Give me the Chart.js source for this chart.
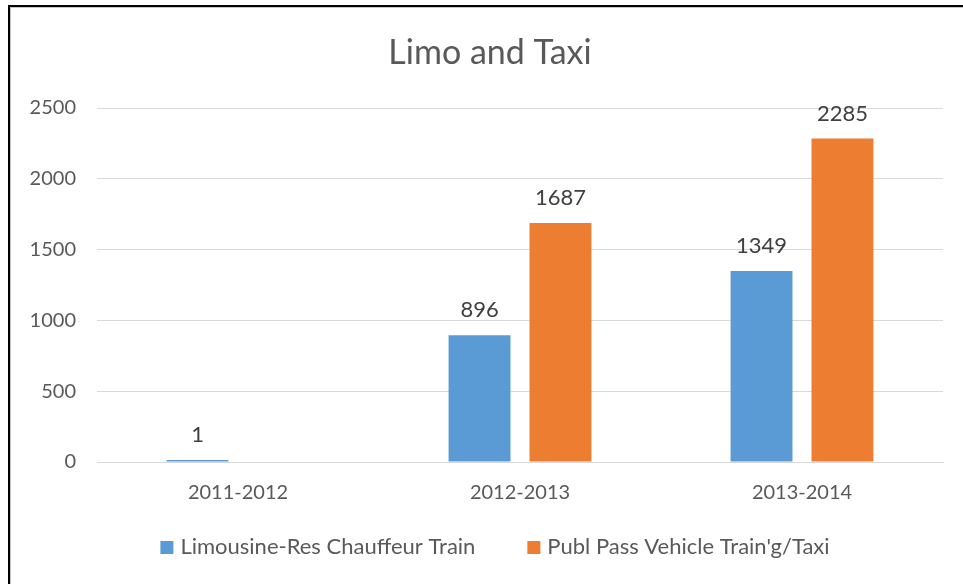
<!DOCTYPE html>
<html>
<head>
<meta charset="utf-8">
<script src="https://cdn.jsdelivr.net/npm/chart.js@4/dist/chart.umd.min.js"></script>
<style>
    html, body { margin: 0; padding: 0; background: #fff; }
    #wrap { width: 963px; height: 584px; position: relative; }
</style>
</head>
<body>
<div id="wrap"><canvas id="myChart" width="963" height="584"></canvas></div>
<script>
const titolo = 'Limo and Taxi'
const categorie = ['2011-2012', '2012-2013', '2013-2014']
const limousine = [1, 896, 1349]
const taxi = [null, 1687, 2285]
const nomiSerie = ['Limousine-Res Chauffeur Train', "Publ Pass Vehicle Train'g/Taxi"]
const tickY = [0, 500, 1000, 1500, 2000, 2500]

const fontBase = 'Lato, "Open Sans", sans-serif'

// cornice nera in alto e a sinistra come nello screenshot
const cornice = {
    id: 'cornice',
    afterDraw(chart) {
        const c = chart.ctx
        c.save()
        c.fillStyle = '#000'
        c.fillRect(8, 5, 2, 584)
        c.fillRect(8, 5, 963, 2)
        c.fillStyle = '#c8c8c8'
        c.fillRect(10, 7, 1, 584)
        c.fillRect(10, 7, 963, 1)
        c.restore()
    }
}

// titolo centrato come in excel (un po' a destra rispetto al canvas)
const intestazione = {
    id: 'intestazione',
    afterDraw(chart) {
        const c = chart.ctx
        c.save()
        c.font = '34px ' + fontBase
        c.fillStyle = '#595959'
        c.textAlign = 'center'
        c.textBaseline = 'middle'
        c.fillText(titolo, 490, 53)
        c.restore()
    }
}

// etichette dei valori sopra le barre
const etichette = {
    id: 'etichette',
    afterDatasetsDraw(chart) {
        const c = chart.ctx
        c.save()
        c.font = '22px ' + fontBase
        c.fillStyle = '#404040'
        c.textAlign = 'center'
        c.textBaseline = 'middle'
        chart.data.datasets.forEach((ds, i) => {
            chart.getDatasetMeta(i).data.forEach((bar, j) => {
                if (ds.data[j] == null) return
                c.fillText(ds.data[j], bar.x, bar.y - 25)
            })
        })
        c.restore()
    }
}

// legenda disegnata a mano (quella di chart.js non lascia separare spazio orizzontale e verticale)
const legenda = {
    id: 'legenda',
    afterDraw(chart) {
        const c = chart.ctx
        c.save()
        c.font = '22px ' + fontBase
        c.textBaseline = 'middle'
        c.textAlign = 'left'
        const box = 13, spazioTesto = 7, spazioVoci = 52
        const voci = chart.data.datasets.map(ds => ({ testo: ds.label, colore: ds.backgroundColor, w: c.measureText(ds.label).width }))
        let totale = voci.reduce((s, v) => s + box + spazioTesto + v.w, 0) + spazioVoci * (voci.length - 1)
        let x = 495 - totale / 2
        const y = 547
        voci.forEach(v => {
            c.fillStyle = v.colore
            c.fillRect(x, y - 6, box, box)
            c.fillStyle = '#595959'
            c.fillText(v.testo, x + box + spazioTesto, y)
            x += box + spazioTesto + v.w + spazioVoci
        })
        c.restore()
    }
}

const ctx = document.getElementById('myChart').getContext('2d')
const myChart = new Chart(ctx, {
    type: 'bar',
    data: {
        labels: categorie,
        datasets: [{
            label: nomiSerie[0],
            data: limousine,
            backgroundColor: '#5B9BD5',
            minBarLength: 2
        }, {
            label: nomiSerie[1],
            data: taxi,
            backgroundColor: '#ED7D31'
        }]
    },
    options: {
        responsive: false,
        animation: false,
        categoryPercentage: 0.574,
        barPercentage: 0.765,
        layout: {
            padding: { left: 10, right: 20, top: 108, bottom: 60 }
        },
        plugins: {
            title: { display: false },
            legend: { display: false },
            tooltip: { enabled: false }
        },
        scales: {
            x: {
                grid: { display: false, drawTicks: false },
                border: { color: '#d9d9d9' },
                ticks: {
                    color: '#595959',
                    font: { family: fontBase, size: 20 },
                    padding: 19
                }
            },
            y: {
                min: 0,
                max: 2500,
                afterBuildTicks: axis => { axis.ticks = tickY.map(v => ({ value: v })) },
                grid: { color: '#d9d9d9', drawTicks: false },
                border: { display: false },
                ticks: {
                    color: '#595959',
                    font: { family: fontBase, size: 20 },
                    padding: 21,
                    callback: v => String(v)
                },
                afterFit: scala => { scala.width = 87 }
            }
        }
    },
    plugins: [etichette, intestazione, legenda, cornice]
})
</script>
</body>
</html>
